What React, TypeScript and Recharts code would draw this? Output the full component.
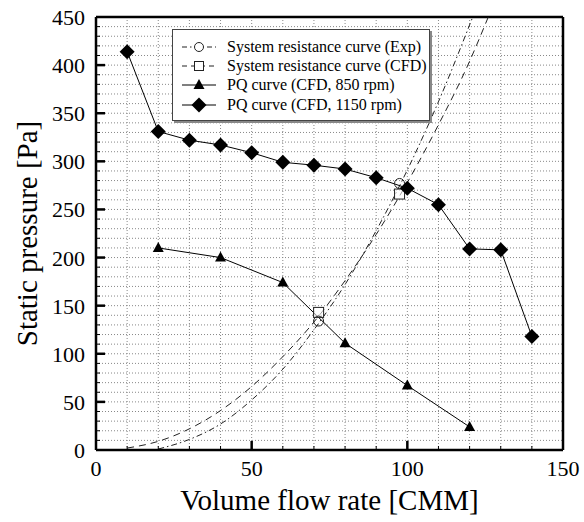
import React from 'react';
import {
  ComposedChart,
  Line,
  Scatter,
  XAxis,
  YAxis,
  CartesianGrid,
  ReferenceLine,
  Legend
} from 'recharts';

// data
const flow1150 = [10, 20, 30, 40, 50, 60, 70, 80, 90, 100, 110, 120, 130, 140];
const pressure1150 = [414, 331, 322, 317, 309, 299, 296, 292, 283, 272, 255, 209, 208, 118];

const flow850 = [20, 40, 60, 80, 100, 120];
const pressure850 = [210, 200, 174, 111, 67, 24];

// system resistance curves (Exp: dash-dot, CFD: dashed)
const expCurveFlow = [20, 30, 40, 50, 60, 70, 80, 90, 100, 110, 121];
const expCurvePressure = [1, 11, 27, 52, 84, 125, 172, 228, 291, 362, 450];
const cfdCurveFlow = [10, 20, 30, 40, 50, 60, 70, 80, 90, 100, 110, 120, 126];
const cfdCurvePressure = [2, 9, 22, 41, 66, 97, 133, 176, 224, 278, 338, 404, 450];

// operating points
const expMarkerFlow = [71.5, 97.5];
const expMarkerPressure = [134, 277];
const cfdMarkerFlow = [71.5, 97.5];
const cfdMarkerPressure = [143, 266];

// axes
const xTicks = [0, 10, 20, 30, 40, 50, 60, 70, 80, 90, 100, 110, 120, 130, 140, 150];
const yTicks = [
  0, 10, 20, 30, 40, 50, 60, 70, 80, 90, 100, 110, 120, 130, 140, 150, 160, 170, 180, 190, 200,
  210, 220, 230, 240, 250, 260, 270, 280, 290, 300, 310, 320, 330, 340, 350, 360, 370, 380, 390,
  400, 410, 420, 430, 440, 450
];
const xMajor = 50;
const yMajor = 50;

const legendLabels = [
  'System resistance curve (Exp)',
  'System resistance curve (CFD)',
  'PQ curve (CFD, 850 rpm)',
  'PQ curve (CFD, 1150 rpm)'
];

const FONT = "'Liberation Serif', 'Times New Roman', serif";

const toPoints = (xs: number[], ys: number[]) => xs.map((x, i) => ({ x, y: ys[i] }));

const diamond = (cx: number, cy: number, key?: string | number) => (
  <polygon
    key={key}
    points={`${cx},${cy - 7.5} ${cx + 7.5},${cy} ${cx},${cy + 7.5} ${cx - 7.5},${cy}`}
    fill="#000"
  />
);

const triangle = (cx: number, cy: number, key?: string | number) => (
  <polygon
    key={key}
    points={`${cx},${cy - 6} ${cx + 5.5},${cy + 4} ${cx - 5.5},${cy + 4}`}
    fill="#000"
  />
);

const XTick = (props: any) => {
  const { x, y, payload } = props;
  const v = payload.value;
  const major = v % xMajor === 0;
  return (
    <g>
      {v > 0 && v < 150 && (
        <line
          x1={x}
          x2={x}
          y1={y}
          y2={y - (major ? 9 : 4)}
          stroke="#000"
          strokeWidth={major ? 2.5 : 1}
        />
      )}
      {major && (
        <text x={x} y={y + 26} textAnchor="middle" fontSize={22} fontFamily={FONT} fill="#000">
          {v}
        </text>
      )}
    </g>
  );
};

const YTick = (props: any) => {
  const { x, y, payload } = props;
  const v = payload.value;
  const major = v % yMajor === 0;
  return (
    <g>
      {v > 0 && v < 450 && (
        <line
          x1={x}
          x2={x + (major ? 9 : 4)}
          y1={y}
          y2={y}
          stroke="#000"
          strokeWidth={major ? 2.5 : 1}
        />
      )}
      {major && (
        <text x={x - 11} y={y + 8} textAnchor="end" fontSize={22} fontFamily={FONT} fill="#000">
          {v}
        </text>
      )}
    </g>
  );
};

const LegendBox = () => {
  const samples = [
    <g>
      <line x1={0} x2={34} y1={8} y2={8} stroke="#222" strokeDasharray="5 3 1.5 3" />
      <circle cx={17} cy={8} r={4.5} fill="#fff" stroke="#222" />
    </g>,
    <g>
      <line x1={0} x2={34} y1={8} y2={8} stroke="#222" strokeDasharray="5 4" />
      <rect x={12.5} y={3.5} width={9} height={9} fill="#fff" stroke="#222" />
    </g>,
    <g>
      <line x1={0} x2={34} y1={8} y2={8} stroke="#000" />
      {triangle(17, 8)}
    </g>,
    <g>
      <line x1={0} x2={34} y1={8} y2={8} stroke="#000" />
      {diamond(17, 8)}
    </g>
  ];
  return (
    <div
      style={{
        background: '#fff',
        border: '1px solid #444',
        boxShadow: '2px 2px 0 #888',
        padding: '7px 6px 6px 9px',
        fontFamily: FONT,
        fontSize: 16,
        color: '#000',
        width: 241
      }}
    >
      {legendLabels.map((label, i) => (
        <div key={label} style={{ display: 'flex', alignItems: 'center', height: 19.3 }}>
          <svg width={34} height={16} style={{ marginRight: 11, flexShrink: 0 }}>
            {samples[i]}
          </svg>
          <span style={{ whiteSpace: 'nowrap' }}>{label}</span>
        </div>
      ))}
    </div>
  );
};

export default function App() {
  const data1150 = toPoints(flow1150, pressure1150);
  const data850 = toPoints(flow850, pressure850);
  const expCurve = toPoints(expCurveFlow, expCurvePressure);
  const cfdCurve = toPoints(cfdCurveFlow, cfdCurvePressure);
  const expMarkers = toPoints(expMarkerFlow, expMarkerPressure);
  const cfdMarkers = toPoints(cfdMarkerFlow, cfdMarkerPressure);

  return (
    <div style={{ position: 'absolute', left: 0, top: 0, background: '#fff' }}>
      <ComposedChart width={584} height={522} margin={{ top: 17, right: 21, bottom: 0, left: 0 }}>
        <CartesianGrid
          stroke="#888"
          strokeDasharray="1 2"
          horizontalValues={yTicks}
          verticalValues={xTicks}
        />
        <XAxis
          type="number"
          dataKey="x"
          domain={[0, 150]}
          ticks={xTicks}
          interval={0}
          height={72}
          tickSize={0}
          tickMargin={0}
          tickLine={false}
          tick={<XTick />}
          axisLine={{ stroke: '#000', strokeWidth: 2.5 }}
          allowDataOverflow
          label={{
            value: 'Volume flow rate [CMM]',
            position: 'insideBottom',
            offset: 12,
            style: { fontFamily: FONT, fontSize: 29, fill: '#000' }
          }}
        />
        <YAxis
          type="number"
          dataKey="y"
          domain={[0, 450]}
          ticks={yTicks}
          interval={0}
          width={96}
          tickSize={0}
          tickMargin={0}
          tickLine={false}
          tick={<YTick />}
          axisLine={{ stroke: '#000', strokeWidth: 2.5 }}
          allowDataOverflow
          label={{
            content: (props: any) => {
              const vb = props.viewBox;
              const cx = vb.x + 37;
              const cy = vb.y + vb.height / 2;
              return (
                <text
                  x={cx}
                  y={cy}
                  transform={`rotate(-90 ${cx} ${cy})`}
                  textAnchor="middle"
                  fontFamily={FONT}
                  fontSize={29}
                  fill="#000"
                >
                  Static pressure [Pa]
                </text>
              );
            }
          }}
        />
        <ReferenceLine y={450} stroke="#000" strokeWidth={2.5} />
        <ReferenceLine x={150} stroke="#000" strokeWidth={2.5} />

        <Line
          data={expCurve}
          dataKey="y"
          type="monotone"
          stroke="#222"
          strokeWidth={1}
          strokeDasharray="6 3 1.5 3"
          dot={false}
          isAnimationActive={false}
        />
        <Line
          data={cfdCurve}
          dataKey="y"
          type="monotone"
          stroke="#222"
          strokeWidth={1}
          strokeDasharray="7 5"
          dot={false}
          isAnimationActive={false}
        />
        <Line
          data={data850}
          dataKey="y"
          type="linear"
          stroke="#000"
          strokeWidth={1}
          dot={(p: any) => triangle(p.cx, p.cy, `t${p.index}`)}
          isAnimationActive={false}
        />
        <Line
          data={data1150}
          dataKey="y"
          type="linear"
          stroke="#000"
          strokeWidth={1}
          dot={(p: any) => diamond(p.cx, p.cy, `d${p.index}`)}
          isAnimationActive={false}
        />
        <Scatter
          data={cfdMarkers}
          dataKey="y"
          isAnimationActive={false}
          shape={(p: any) => (
            <rect x={p.cx - 5} y={p.cy - 5} width={10} height={10} fill="#fff" fillOpacity={0.6} stroke="#222" />
          )}
        />
        <Scatter
          data={expMarkers}
          dataKey="y"
          isAnimationActive={false}
          shape={(p: any) => (
            <circle cx={p.cx} cy={p.cy} r={5} fill="none" stroke="#222" />
          )}
        />
        <Legend
          layout="vertical"
          align="center"
          verticalAlign="middle"
          wrapperStyle={{ left: 172, top: 29, width: 'auto', height: 'auto' }}
          content={() => <LegendBox />}
        />
      </ComposedChart>
    </div>
  );
}
